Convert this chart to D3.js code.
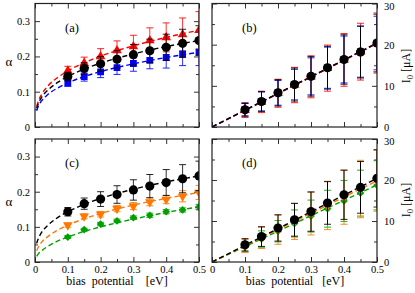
<!DOCTYPE html>
<html><head><meta charset="utf-8">
<script src="https://cdn.jsdelivr.net/npm/d3@7"></script>
<style>
body{margin:0;background:#fff;}
svg{display:block;font-family:"Liberation Serif","DejaVu Serif",serif;}
</style></head>
<body><svg id="c" width="415" height="293"></svg>
<script>
// ---------- data ----------
const bias = [0.1,0.15,0.2,0.25,0.3,0.35,0.4,0.45,0.5];
const xTickVals = [0,0.1,0.2,0.3,0.4,0.5];
const xTickLabels = ["0","0.1","0.2","0.3","0.4","0.5"];
const xMinor = [0.05,0.15,0.25,0.35,0.45];
const alphaTickVals = [0,0.1,0.2,0.3];
const alphaTickLabels = ["0","0.1","0.2","0.3"];
const alphaMinor = [0.05,0.15,0.25];
const iTickVals = [0,10,20,30];
const iTickLabels = ["0","10","20","30"];
const iMinor = [5,15,25];

// alpha (panels a, c)
const alphaBlack = [0.143,0.166,0.179,0.192,0.205,0.216,0.226,0.237,0.245];
const alphaBlackErr = [0.012,0.016,0.021,0.025,0.029,0.033,0.037,0.040,0.042];
const alphaRed = [0.159,0.181,0.200,0.217,0.228,0.245,0.254,0.262,0.274];
const alphaRedErr = [0.013,0.017,0.022,0.027,0.032,0.036,0.041,0.047,0.053];
const alphaBlue = [0.125,0.143,0.156,0.168,0.180,0.189,0.197,0.207,0.212];
const alphaBlueErr = [0.010,0.013,0.016,0.019,0.022,0.024,0.030,0.033,0.038];
const alphaOrange = [0.105,0.130,0.136,0.152,0.159,0.171,0.178,0.187,0.198];
const alphaOrangeErr = [0.006,0.007,0.008,0.009,0.010,0.011,0.012,0.016,0.020];
const alphaGreen = [0.071,0.092,0.108,0.117,0.126,0.133,0.143,0.148,0.157];
const alphaGreenErr = [0.004,0.004,0.005,0.005,0.005,0.006,0.006,0.006,0.007];

// fitted curves (alpha)
const fitX = [0.005,0.01,0.02,0.04,0.07,0.1,0.15,0.2,0.3,0.4,0.5];
const fitBlack = [0.053,0.066,0.084,0.105,0.127,0.143,0.164,0.181,0.207,0.228,0.245];
const fitRed = [0.058,0.073,0.092,0.117,0.141,0.159,0.182,0.201,0.230,0.254,0.274];
const fitBlue = [0.047,0.059,0.074,0.093,0.111,0.125,0.143,0.157,0.179,0.197,0.212];
const fitOrange = [0.032,0.042,0.056,0.073,0.091,0.105,0.123,0.138,0.162,0.181,0.198];
const fitGreen = [0.016,0.023,0.032,0.045,0.060,0.071,0.087,0.100,0.122,0.141,0.157];

// current I0 (panels b, d)
const iBlack = [4.2,6.2,8.3,10.3,12.3,14.4,16.4,18.2,20.4];
const iBlackErr = [1.5,2.4,3.2,4.0,4.8,5.2,6.0,6.3,7.0];
const iRed = [4.1,6.1,8.2,10.2,12.2,14.3,16.3,18.3,20.4];
const iRedErr = [1.8,2.6,3.4,4.3,5.1,5.6,6.4,6.9,7.3];
const iBlue = [4.2,6.2,8.3,10.3,12.3,14.4,16.4,18.3,20.4];
const iBlueErr = [1.6,2.3,3.0,3.7,4.5,5.0,5.7,6.2,6.5];
const iOrange = [3.9,5.9,7.9,9.9,11.8,13.8,15.8,17.8,19.8];
const iOrangeErr = [1.6,2.6,3.6,4.4,5.2,5.9,6.6,7.0,7.4];
const iGreen = [3.7,5.6,7.5,9.4,11.2,13.0,14.9,16.8,18.7];
const iGreenErr = [1.2,2.0,2.6,3.3,3.9,4.5,5.0,5.6,6.0];
const lineX = [0,0.5];
const lineBlack = [0,20.4];
const lineRed = [0,20.3];
const lineBlue = [0,20.3];
const lineOrange = [0,19.8];
const lineGreen = [0,18.8];

// ---------- drawing ----------
const svg = d3.select("#c");
const COL = {black:"#000000", red:"#ff0000", blue:"#0000ff", orange:"#ff7800", green:"#00a000"};

function panel(p){
  const g = svg.append("g");
  const x = d3.scaleLinear().domain([0,0.5]).range([p.left,p.right]);
  const y = d3.scaleLinear().domain([0,p.ymax]).range([p.bottom,p.top]);
  const clipId = "clip"+p.name;
  svg.append("clipPath").attr("id",clipId).append("rect")
     .attr("x",p.left).attr("y",p.top).attr("width",p.right-p.left).attr("height",p.bottom-p.top);

  const fmtX = d => xTickLabels[xTickVals.indexOf(d)];
  const fmtY = d => p.yLabels[p.yVals.indexOf(d)];
  const bAx = d3.axisBottom(x).tickValues(xTickVals).tickSize(-5).tickPadding(4)
      .tickFormat(p.showX ? fmtX : "");
  const gb = g.append("g").attr("transform",`translate(0,${p.bottom})`).call(bAx);
  g.append("g").attr("transform",`translate(0,${p.bottom})`).call(d3.axisBottom(x).tickValues(xMinor).tickSize(-3).tickFormat(""));
  g.append("g").attr("transform",`translate(0,${p.top})`).call(d3.axisTop(x).tickValues(xTickVals).tickSize(-5).tickFormat(""));
  g.append("g").attr("transform",`translate(0,${p.top})`).call(d3.axisTop(x).tickValues(xMinor).tickSize(-3).tickFormat(""));
  const lAx = d3.axisLeft(y).tickValues(p.yVals).tickSize(-5).tickPadding(5).tickFormat(p.side==="left"?fmtY:"");
  const rAx = d3.axisRight(y).tickValues(p.yVals).tickSize(-5).tickPadding(7).tickFormat(p.side==="right"?fmtY:"");
  g.append("g").attr("transform",`translate(${p.left},0)`).call(lAx);
  const gr = g.append("g").attr("transform",`translate(${p.right},0)`).call(rAx);
  g.append("g").attr("transform",`translate(${p.left},0)`).call(d3.axisLeft(y).tickValues(p.yMinor).tickSize(-3).tickFormat(""));
  g.append("g").attr("transform",`translate(${p.right},0)`).call(d3.axisRight(y).tickValues(p.yMinor).tickSize(-3).tickFormat(""));
  g.selectAll(".domain").remove();
  g.selectAll(".tick line").attr("stroke","#333").attr("stroke-width",1);
  g.selectAll(".tick text").attr("font-family","Liberation Serif, serif").attr("font-size",10.5).attr("fill","#000");
  if(p.side==="right") gr.selectAll(".tick text").attr("text-anchor","start")
      .attr("dy",d=>d===p.yVals[p.yVals.length-1] ? "0.55em" : "0.32em");
  if(p.showX) gb.selectAll(".tick text").attr("dy","0.71em");

  const plot = g.append("g").attr("clip-path",`url(#${clipId})`);
  p.fits.forEach(f=>{
    const line = d3.line().x((d,i)=>x(f.xs[i])).y(d=>y(d)).curve(d3.curveMonotoneX);
    plot.append("path").attr("d",line(f.ys)).attr("fill","none")
      .attr("stroke",f.color).attr("stroke-width",1.4).attr("stroke-dasharray","5,3");
  });
  p.series.forEach(s=>{
    const sg = plot.append("g");
    bias.forEach((bx,i)=>{
      const cx = x(bx), v = s.vals[i], e = s.errs[i];
      const yt = y(v+e), yb = y(v-e);
      sg.append("line").attr("x1",cx).attr("x2",cx).attr("y1",yt).attr("y2",yb)
        .attr("stroke",s.color).attr("stroke-width",1).attr("opacity",s.eop||0.8);
      [yt,yb].forEach(yy=>sg.append("line").attr("x1",cx-3.5).attr("x2",cx+3.5).attr("y1",yy).attr("y2",yy)
        .attr("stroke",s.color).attr("stroke-width",1).attr("opacity",0.85));
    });
    bias.forEach((bx,i)=>{
      sg.append("path").attr("d",d3.symbol().type(s.sym).size(s.size)())
        .attr("transform",`translate(${x(bx)},${y(s.vals[i])}) rotate(${s.rot||0})`)
        .attr("fill",s.color);
    });
  });

  g.append("rect").attr("x",p.left).attr("y",p.top).attr("width",p.right-p.left).attr("height",p.bottom-p.top)
    .attr("fill","none").attr("stroke","#222").attr("stroke-width",1.2);

  g.append("text").attr("x",p.left+30).attr("y",p.top+28).attr("font-size",12.5).text(p.label);
  return {x,y};
}

const A = {left:35,right:199}, B = {left:212,right:377};
const TOP = {top:3.5,bottom:127}, BOT = {top:139,bottom:262};
const sCircle = {sym:d3.symbolCircle,size:66};

panel({name:"a",...A,...TOP,ymax:0.35,yVals:alphaTickVals,yLabels:alphaTickLabels,yMinor:alphaMinor,side:"left",showX:false,label:"(a)",
  fits:[{xs:fitX,ys:fitRed,color:COL.red},{xs:fitX,ys:fitBlue,color:COL.blue},{xs:fitX,ys:fitBlack,color:COL.black}],
  series:[
    {vals:alphaRed,errs:alphaRedErr,color:COL.red,sym:d3.symbolTriangle,size:40},
    {vals:alphaBlue,errs:alphaBlueErr,color:COL.blue,sym:d3.symbolSquare,size:46},
    {vals:alphaBlack,errs:alphaBlackErr,color:COL.black,...sCircle}
  ]});
panel({name:"b",...B,...TOP,ymax:30,yVals:iTickVals,yLabels:iTickLabels,yMinor:iMinor,side:"right",showX:false,label:"(b)",
  fits:[{xs:lineX,ys:lineBlue,color:COL.blue},{xs:lineX,ys:lineRed,color:COL.red},{xs:lineX,ys:lineBlack,color:COL.black}],
  series:[
    {vals:iRed,errs:iRedErr,color:COL.red,sym:d3.symbolTriangle,size:40},
    {vals:iBlue,errs:iBlueErr,color:COL.blue,sym:d3.symbolSquare,size:46},
    {vals:iBlack,errs:iBlackErr,color:COL.black,...sCircle,eop:1}
  ]});
panel({name:"c",...A,...BOT,ymax:0.35,yVals:alphaTickVals,yLabels:alphaTickLabels,yMinor:alphaMinor,side:"left",showX:true,label:"(c)",
  fits:[{xs:fitX,ys:fitGreen,color:COL.green},{xs:fitX,ys:fitOrange,color:COL.orange},{xs:fitX,ys:fitBlack,color:COL.black}],
  series:[
    {vals:alphaGreen,errs:alphaGreenErr,color:COL.green,sym:d3.symbolSquare,size:30,rot:45},
    {vals:alphaOrange,errs:alphaOrangeErr,color:COL.orange,sym:d3.symbolTriangle,size:40,rot:180},
    {vals:alphaBlack,errs:alphaBlackErr,color:COL.black,...sCircle}
  ]});
panel({name:"d",...B,...BOT,ymax:30,yVals:iTickVals,yLabels:iTickLabels,yMinor:iMinor,side:"right",showX:true,label:"(d)",
  fits:[{xs:lineX,ys:lineGreen,color:COL.green},{xs:lineX,ys:lineOrange,color:COL.orange},{xs:lineX,ys:lineBlack,color:COL.black}],
  series:[
    {vals:iGreen,errs:iGreenErr,color:COL.green,sym:d3.symbolSquare,size:30,rot:45},
    {vals:iOrange,errs:iOrangeErr,color:COL.orange,sym:d3.symbolTriangle,size:40,rot:180},
    {vals:iBlack,errs:iBlackErr,color:COL.black,...sCircle,eop:1}
  ]});

[66,206].forEach(cy=>svg.append("text").attr("x",9).attr("y",cy).attr("text-anchor","middle")
  .attr("font-size",13).text("α"));
[66,200].forEach(cy=>{
  const t = svg.append("text").attr("transform",`translate(410,${cy}) rotate(-90)`).attr("text-anchor","middle").attr("font-size",12);
  t.append("tspan").text("I");
  t.append("tspan").attr("font-size",8.5).attr("dy",3).text("0");
  t.append("tspan").attr("dy",-3).text(" [μA]");
});
[117,295].forEach(cx=>svg.append("text").attr("x",cx).attr("y",285).attr("text-anchor","middle")
  .attr("font-size",12).style("white-space","pre").text(cx<200?"bias  potential    [eV]":"bias  potential   [eV]"));
</script></body></html>
